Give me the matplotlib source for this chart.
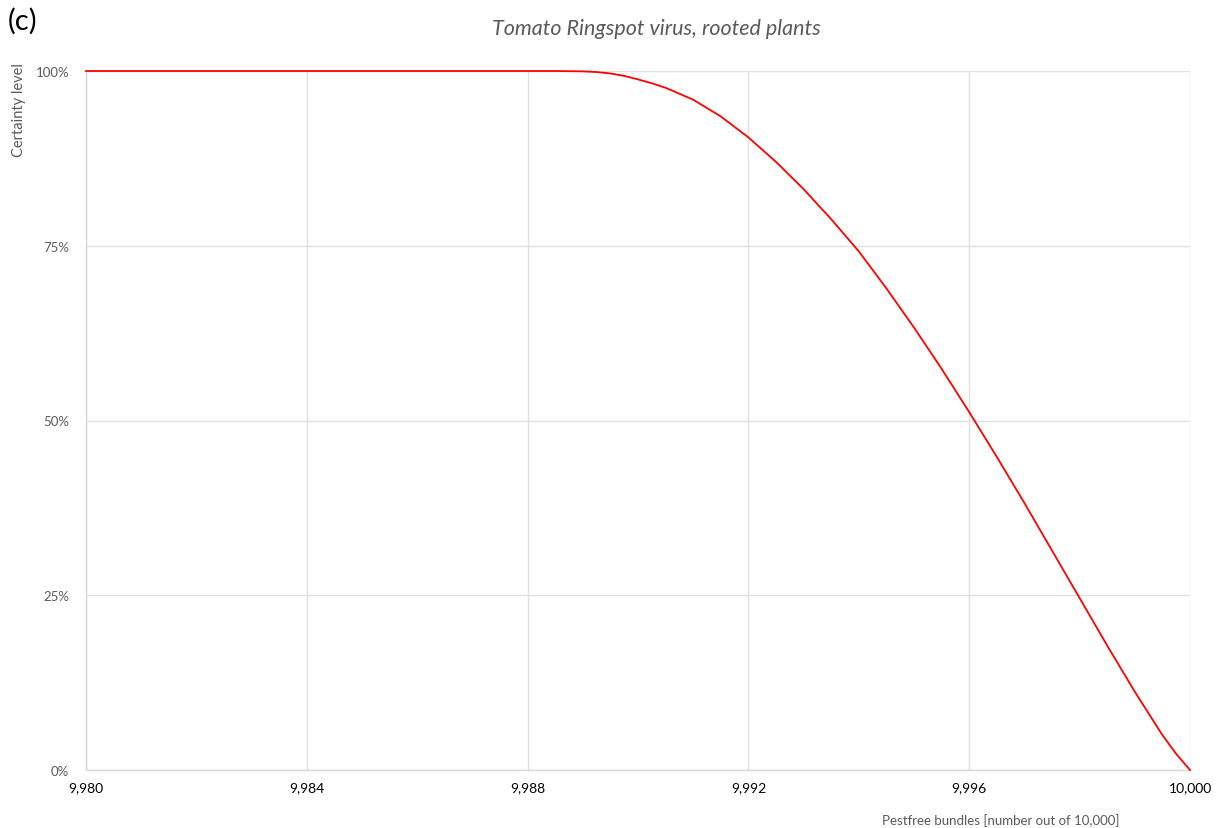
import matplotlib
matplotlib.use("Agg")
import matplotlib.pyplot as plt
from matplotlib.ticker import FuncFormatter, FixedLocator

# Data
bundles = [9980, 9981, 9982, 9983, 9984, 9985, 9986, 9987, 9988, 9988.5, 9989,
           9989.25, 9989.5, 9989.75, 9990, 9990.25, 9990.5, 9991, 9991.5, 9992,
           9992.5, 9993, 9993.5, 9994, 9994.5, 9995, 9995.5, 9996, 9996.5,
           9997, 9997.5, 9998, 9998.5, 9999, 9999.5, 9999.75, 10000]
certainty = [100, 100, 100, 100, 100, 100, 100, 100, 100, 100, 99.95,
             99.85, 99.65, 99.3, 98.8, 98.25, 97.6, 95.9, 93.5, 90.5,
             87.0, 83.1, 78.8, 74.2, 68.9, 63.3, 57.4, 51.2, 44.8,
             38.2, 31.4, 24.6, 17.8, 11.2, 5.0, 2.3, 0]
x_ticks = [9980, 9984, 9988, 9992, 9996, 10000]
y_ticks = [0, 25, 50, 75, 100]

title = "Tomato Ringspot virus, rooted plants"
xlabel = "Pestfree bundles [number out of 10,000]"
ylabel = "Certainty level"
panel = "(c)"

plt.rcParams['font.family'] = ['Lato', 'DejaVu Sans']

fig = plt.figure(figsize=(12.19, 8.29), dpi=100)
ax = fig.add_axes([86/1219, 1-771/829, (1190-86)/1219, (771-72)/829])

ax.plot(bundles, certainty, color='#ff0000', lw=1.3, clip_on=False, zorder=5)

ax.set_xlim(9980, 10000)
ax.set_ylim(0, 100)
ax.xaxis.set_major_locator(FixedLocator(x_ticks))
ax.yaxis.set_major_locator(FixedLocator(y_ticks))
ax.xaxis.set_major_formatter(FuncFormatter(lambda v, p: f"{int(round(v)):,}"))
ax.yaxis.set_major_formatter(FuncFormatter(lambda v, p: f"{int(round(v))}%"))

ax.grid(True, color='#e0e0e0', lw=1.0)
ax.set_axisbelow(True)
for s in ['top', 'right']:
    ax.spines[s].set_visible(False)
for s in ['left', 'bottom']:
    ax.spines[s].set_color('#d9d9d9')
    ax.spines[s].set_linewidth(1.0)

ax.tick_params(axis='both', length=0)
ax.tick_params(axis='y', labelsize=9.5, labelcolor='#595959', pad=12)
ax.tick_params(axis='x', labelsize=10, labelcolor='#000000', pad=8)

fig.text(656/1219, 1-29/829, title, ha='center', va='center',
         fontsize=15.5, style='italic', color='#595959')
fig.text(8/1219, 1-21/829, panel, ha='left', va='center', fontsize=21, color='#000000')
fig.text(19/1219, 1-110/829, ylabel, ha='center', va='center', rotation=90,
         fontsize=10.5, color='#595959')
fig.text(1001/1219, 1-821/829, xlabel, ha='center', va='center',
         fontsize=9.5, color='#595959')

fig.savefig("out.png", dpi=100, facecolor='white')
